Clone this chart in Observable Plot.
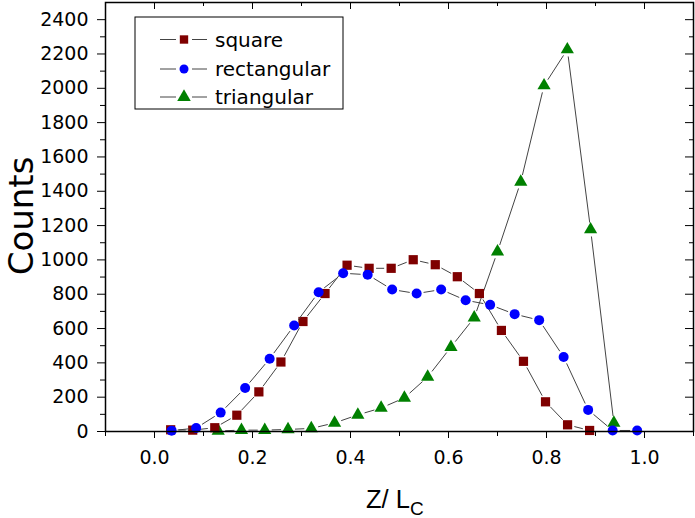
<!DOCTYPE html>
<html><head><meta charset="utf-8">
<script src="https://cdn.jsdelivr.net/npm/d3@7"></script>
<script src="https://cdn.jsdelivr.net/npm/@observablehq/plot@0.6"></script>
<style>
html,body{margin:0;padding:0;background:#fff;}
#chart{width:695px;height:518px;}
</style></head><body><div id="chart"></div>
<script>
// ---- data ----
const squareX = [0.033, 0.078, 0.123, 0.168, 0.213, 0.258, 0.303, 0.348, 0.393, 0.438, 0.483, 0.528, 0.573, 0.618, 0.663, 0.708, 0.753, 0.798, 0.843, 0.888];
const squareY = [10, 8, 22, 95, 231, 405, 641, 804, 969, 951, 951, 1001, 972, 902, 804, 589, 409, 173, 39, 6];
const rectX = [0.035, 0.085, 0.135, 0.185, 0.235, 0.285, 0.335, 0.385, 0.435, 0.485, 0.535, 0.585, 0.635, 0.685, 0.735, 0.785, 0.835, 0.885, 0.935, 0.985];
const rectY = [5, 20, 110, 254, 424, 618, 812, 922, 914, 827, 804, 827, 765, 738, 684, 649, 434, 126, 6, 6];
const triX = [0.13, 0.1775, 0.225, 0.2725, 0.32, 0.3675, 0.415, 0.4625, 0.51, 0.5575, 0.605, 0.6525, 0.70, 0.7475, 0.795, 0.8425, 0.89, 0.9375];
const triY = [3, 8, 8, 12, 18, 50, 97, 137, 196, 318, 492, 663, 1048, 1455, 2016, 2226, 1177, 50];

const seriesNames = ["square", "rectangular", "triangular"];
const seriesColors = ["#7f0000", "#0000ff", "#008000"];
const seriesSymbols = ["square", "circle", "triangle"];
const seriesR = [5.2, 5, 4.9];

const xLabelTicks = [0.0, 0.2, 0.4, 0.6, 0.8, 1.0];
const xMinorTicks = [-0.1, 0.1, 0.3, 0.5, 0.7, 0.9, 1.1];
const yLabelTicks = [0, 200, 400, 600, 800, 1000, 1200, 1400, 1600, 1800, 2000, 2200, 2400];
const yMinorTicks = [100, 300, 500, 700, 900, 1100, 1300, 1500, 1700, 1900, 2100, 2300];

// ---- build ----
const W = 695, H = 518, ML = 105, MR = 2, MT = 2, MB = 87;
const PW = W - ML - MR, PH = H - MT - MB;

const seriesData = [
  squareX.map((x, i) => ({x, y: squareY[i]})),
  rectX.map((x, i) => ({x, y: rectY[i]})),
  triX.map((x, i) => ({x, y: triY[i]}))
];
const segs = d => d.slice(0, -1).map((p, i) => ({x1: p.x, y1: p.y, x2: d[i + 1].x, y2: d[i + 1].y}));

const order = [2, 0, 1]; // triangles under squares under circles
const dataMarks = order.flatMap(k => [
  Plot.arrow(segs(seriesData[k]), {x1: "x1", y1: "y1", x2: "x2", y2: "y2", headLength: 0, insetStart: 7, insetEnd: 7, stroke: "#444", strokeWidth: 1, strokeLinecap: "butt"}),
  Plot.dot(seriesData[k], {x: "x", y: "y", symbol: () => seriesSymbols[k], fill: seriesColors[k], r: seriesR[k], stroke: "none"})
]);

const tickFont = "'DejaVu Sans', Verdana, sans-serif";
const titleFont = "'Liberation Sans', Arial, sans-serif";
const chart = Plot.plot({
  width: W, height: H,
  marginLeft: ML, marginRight: MR, marginTop: MT, marginBottom: MB,
  style: {fontFamily: tickFont, fontSize: "19px", color: "#000", background: "#fff"},
  x: {domain: [-0.1, 1.1]},
  y: {domain: [0, 2500]},
  symbol: {type: "identity"},
  marks: [
    ...dataMarks,
    Plot.frame({stroke: "#000", strokeWidth: 1.5}),
    Plot.axisX(xLabelTicks, {anchor: "bottom", tickSize: 7, tickPadding: 12, tickFormat: d3.format(".1f"), label: null, fontSize: 19}),
    Plot.axisX(xMinorTicks, {anchor: "bottom", tickSize: 5, fill: "none", label: null}),
    Plot.tickX(xLabelTicks, {x: d => d, insetBottom: PH - 7, stroke: "#000"}),
    Plot.tickX(xMinorTicks, {x: d => d, insetBottom: PH - 4, stroke: "#000"}),
    Plot.axisY(yLabelTicks, {anchor: "left", tickSize: 8, tickPadding: 9, tickFormat: d => String(d), label: null, fontSize: 19}),
    Plot.axisY(yMinorTicks, {anchor: "left", tickSize: 5, fill: "none", label: null}),
    Plot.tickY(yLabelTicks, {y: d => d, insetLeft: PW - 8, stroke: "#000"}),
    Plot.tickY(yMinorTicks, {y: d => d, insetLeft: PW - 4, stroke: "#000"})
  ]
});
document.getElementById("chart").appendChild(chart);

// ---- titles & legend ----
const svg = d3.select(chart);
const xt = svg.append("text").attr("x", 366).attr("y", 508).attr("text-anchor", "start")
  .attr("font-family", titleFont).attr("font-size", 25.5).attr("fill", "#000");
xt.append("tspan").text("Z/ L");
xt.append("tspan").attr("dy", 7).attr("font-size", 19).text("C");

svg.append("text").attr("transform", "translate(33,216) rotate(-90)")
  .attr("text-anchor", "middle").attr("font-family", tickFont).attr("font-size", 34)
  .attr("fill", "#000").text("Counts");

const lg = svg.append("g");
lg.append("rect").attr("x", 135).attr("y", 17).attr("width", 208).attr("height", 92)
  .attr("fill", "#fff").attr("stroke", "#000").attr("stroke-width", 1);
const rowY = [39.5, 69, 97];
const legSym = [d3.symbolSquare, d3.symbolCircle, d3.symbolTriangle];
const legSize = [70, 64, 80];
seriesNames.forEach((name, i) => {
  const y = rowY[i];
  lg.append("line").attr("x1", 160).attr("x2", 176).attr("y1", y).attr("y2", y).attr("stroke", "#444");
  lg.append("line").attr("x1", 192).attr("x2", 207).attr("y1", y).attr("y2", y).attr("stroke", "#444");
  lg.append("path").attr("d", d3.symbol(legSym[i], legSize[i])())
    .attr("transform", `translate(184,${y})`).attr("fill", seriesColors[i]);
  lg.append("text").attr("x", 215).attr("y", y).attr("dy", "0.35em").attr("text-anchor", "start")
    .attr("font-family", tickFont).attr("font-size", 20).attr("fill", "#000").text(name);
});
</script></body></html>
